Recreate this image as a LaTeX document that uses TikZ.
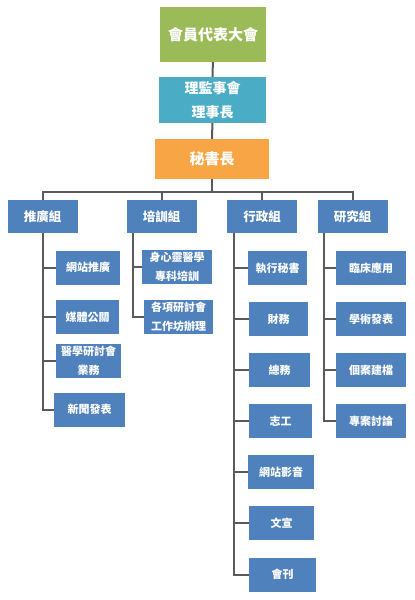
\documentclass[tikz,border=0pt]{standalone}
\usepackage{fontspec}
\newfontfamily\cjk{Noto Sans CJK TC}
\usepackage{tikz}
\usetikzlibrary{calc}
\definecolor{topgreen}{HTML}{9BBB59}
\definecolor{boardcyan}{HTML}{4BACC6}
\definecolor{secorange}{HTML}{F7A545}
\definecolor{grpblue}{HTML}{4F81BD}
\definecolor{linegray}{HTML}{5A5A5A}

\begin{document}
\begin{tikzpicture}[x=1pt,y=-1pt]
    \tikzstyle{chartbox} = [rectangle, text centered, align=center, text=white, inner sep=0pt]
    \tikzstyle{topbox} = [chartbox, font=\cjk\bfseries\fontsize{15}{17}\selectfont]
    \tikzstyle{group} = [chartbox, fill=grpblue, minimum width=70pt, minimum height=33pt, font=\cjk\bfseries\fontsize{12.5}{15}\selectfont]
    \tikzstyle{item} = [chartbox, fill=grpblue, minimum width=64pt, minimum height=34pt, font=\cjk\bfseries\fontsize{11}{19}\selectfont]
    \tikzstyle{line} = [draw=linegray, line width=2pt]
    \useasboundingbox (0,0) rectangle (415,600);
    % Nodes
    \node (assembly) [topbox, fill=topgreen, minimum width=106pt, minimum height=55pt] at (213,34.5) {會員代表大會};
    \node (board) [topbox, fill=boardcyan, minimum width=107pt, minimum height=46pt, font=\cjk\bfseries\fontsize{14}{24}\selectfont] at (212.5,100) {理監事會\\理事長};
    \node (secretary) [topbox, fill=secorange, minimum width=114pt, minimum height=40pt] at (212,159) {秘書長};
    \node (promo) [group] at (42.5,216.5) {推廣組};
    \node (training) [group] at (161.5,216.5) {培訓組};
    \node (admin) [group] at (262,216.5) {行政組};
    \node (research) [group] at (352.5,216.5) {研究組};
    \node (promoweb) [item] at (88,267.5) {網站推廣};
    \node (promomedia) [item, minimum width=63pt] at (87.5,317) {媒體公關};
    \node (promoconf) [item, minimum width=65pt] at (88.5,361) {醫學研討會\\業務};
    \node (promonews) [item, minimum width=71pt] at (89.5,409.5) {新聞發表};
    \node (trainmed) [item, minimum width=70pt] at (177,267) {身心靈醫學\\專科培訓};
    \node (trainwork) [item, minimum width=69pt] at (178.5,317) {各項研討會\\工作坊辦理};
    \node (adminsec) [item, minimum width=59pt] at (277.5,268) {執行秘書};
    \node (adminfin) [item, minimum width=59pt] at (278.5,319) {財務};
    \node (admingen) [item, minimum width=61pt] at (279.5,370) {總務};
    \node (adminvol) [item, minimum width=63pt] at (280.5,421) {志工};
    \node (adminweb) [item, minimum width=66pt] at (281,472) {網站影音};
    \node (adminpr) [item, minimum width=65pt] at (281.5,523) {文宣};
    \node (adminjour) [item, minimum width=67pt] at (282.5,574.5) {會刊};
    \node (resclin) [item, minimum width=70pt] at (371,268) {臨床應用};
    \node (respub) [item, minimum width=70pt] at (371,319) {學術發表};
    \node (rescase) [item, minimum width=70pt] at (371,370) {個案建檔};
    \node (resproj) [item, minimum width=70pt] at (371,421) {專案討論};
    % Lines
    \draw [line] (assembly) -- (board);
    \draw [line] (board) -- (secretary);
    \draw [line] (secretary.south) -- ++(0,13) coordinate (busmid);
    \draw [line] (promo.north) |- (busmid) -| (research.north);
    \draw [line] (training.north) -- (training.north |- busmid);
    \draw [line] (admin.north) -- (admin.north |- busmid);
    \coordinate (promotrunk) at (promo.south);
    \draw [line] (promotrunk) |- (promonews.west);
    \draw [line] (promoweb.west) -- (promoweb.west -| promotrunk);
    \draw [line] (promomedia.west) -- (promomedia.west -| promotrunk);
    \draw [line] (promoconf.west) -- (promoconf.west -| promotrunk);
    \coordinate (traintrunk) at ($(training.south west) + (7,0)$);
    \draw [line] (traintrunk) |- (trainwork.west);
    \draw [line] (trainmed.west) -- (trainmed.west -| traintrunk);
    \coordinate (admintrunk) at ($(admin.south west) + (7,0)$);
    \draw [line] (admintrunk) |- (adminjour.west);
    \foreach \n in {adminsec, adminfin, admingen, adminvol, adminweb, adminpr}
        \draw [line] (\n.west) -- (\n.west -| admintrunk);
    \coordinate (restrunk) at ($(research.south west) + (7,0)$);
    \draw [line] (restrunk) |- (resproj.west);
    \foreach \n in {resclin, respub, rescase}
        \draw [line] (\n.west) -- (\n.west -| restrunk);
\end{tikzpicture}
\end{document}
